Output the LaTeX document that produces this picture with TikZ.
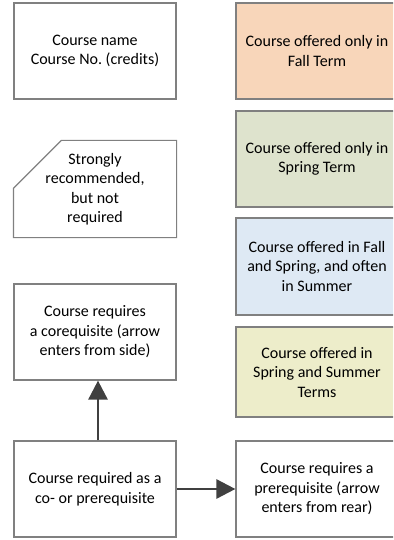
\documentclass[tikz,border=0pt]{standalone}
\usepackage{fontspec}
\setmainfont{Carlito}
\usetikzlibrary{arrows.meta}
\definecolor{fallcol}{RGB}{248,214,186}
\definecolor{springcol}{RGB}{222,227,205}
\definecolor{bothcol}{RGB}{222,233,244}
\definecolor{summercol}{RGB}{237,237,202}
\definecolor{framecol}{RGB}{128,128,128}
\definecolor{arrowcol}{RGB}{64,64,64}
\tikzset{
	keybox/.style={draw=framecol,line width=1.2pt,minimum width=162pt,minimum height=96pt,align=center,inner sep=2pt,font=\fontsize{16}{19.5}\selectfont},
	reqarrow/.style={draw=arrowcol,line width=2.7pt,-{Triangle[length=19pt,width=19pt]}}
}
\frenchspacing
\begin{document}
\begin{tikzpicture}[x=1pt,y=1pt]
	\useasboundingbox (0,0) rectangle (393,-540);
	\clip (0,0) rectangle (393,-540);

	\node[keybox] (name) at (95,-51) {Course name\\Course No.\ (credits)};
	\node[keybox,fill=fallcol] (fall) at (317,-51) {Course offered only in\\Fall Term};
	\node[keybox,fill=springcol] (spring) at (317,-159) {Course offered only in\\Spring Term};
	\node[keybox,fill=bothcol,minimum height=97pt] (both) at (317,-266.5) {Course offered in Fall\\and Spring, and often\\in Summer};
	\node[keybox,fill=summercol,minimum height=90pt] (summer) at (317,-372) {Course offered in\\Spring and Summer\\Terms};

	% chamfered box drawn by hand
	\node[keybox,draw=none] (recom) at (95,-189) {Strongly\\recommended,\\but not\\required};
	\draw[draw=framecol,line width=1.2pt] (recom.south west) -- (recom.south east) -- (recom.north east) -- ([xshift=48pt]recom.north west) -- ([yshift=-48pt]recom.north west) -- cycle;

	\node[keybox] (coreq) at (95,-332) {Course requires\\a corequisite (arrow\\enters from side)};
	\node[keybox] (coprereq) at (95,-489) {Course required as a\\co- or prerequisite};
	\node[keybox] (prereq) at (317,-489) {Course requires a\\prerequisite (arrow\\enters from rear)};

	\draw[reqarrow] ([xshift=3pt]coprereq.north) -- ([xshift=3pt]coreq.south);
	\draw[reqarrow] (coprereq.east) -- (prereq.west);
\end{tikzpicture}
\end{document}
